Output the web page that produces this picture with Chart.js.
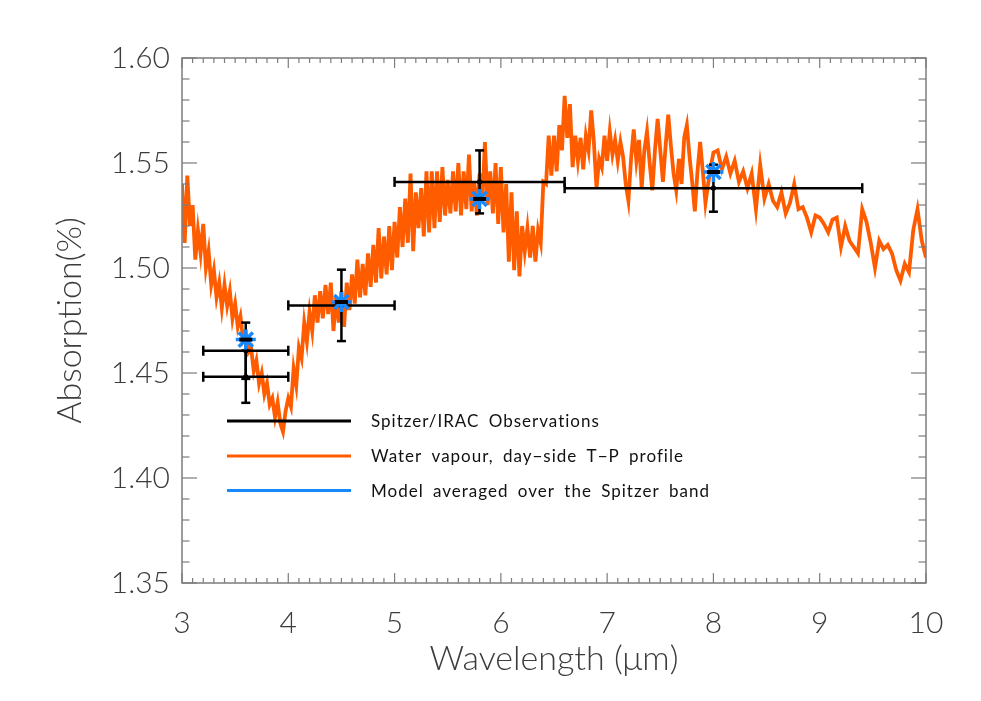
<!DOCTYPE html>
<html><head><meta charset="utf-8">
<script src="https://cdn.jsdelivr.net/npm/chart.js@4/dist/chart.umd.min.js"></script>
<style>html,body{margin:0;padding:0;background:#fff;overflow:hidden}#wrap{width:981px;height:701px;position:relative}</style>
</head><body><div id="wrap"><canvas id="c" width="981" height="701"></canvas></div>
<script>
// ---- Data ----
const wavelength = [
3,3.025,3.05,3.075,3.1,3.125,3.15,3.175,3.2,3.225,
3.25,3.275,3.3,3.325,3.35,3.375,3.4,3.425,3.45,3.475,
3.5,3.525,3.55,3.575,3.6,3.625,3.65,3.675,3.7,3.725,
3.75,3.775,3.8,3.825,3.85,3.875,3.9,3.925,3.95,3.975,
4,4.025,4.05,4.075,4.1,4.125,4.15,4.175,4.2,4.225,
4.25,4.275,4.3,4.325,4.35,4.375,4.4,4.425,4.45,4.475,
4.5,4.525,4.55,4.575,4.6,4.625,4.65,4.675,4.7,4.725,
4.75,4.775,4.8,4.825,4.85,4.875,4.9,4.925,4.95,4.975,
5,5.025,5.05,5.075,5.1,5.125,5.15,5.175,5.2,5.225,
5.25,5.275,5.3,5.325,5.35,5.375,5.4,5.425,5.45,5.475,
5.5,5.525,5.55,5.575,5.6,5.625,5.65,5.675,5.7,5.725,
5.75,5.775,5.8,5.825,5.85,5.875,5.9,5.925,5.95,5.975,
6,6.025,6.05,6.075,6.1,6.125,6.15,6.175,6.2,6.225,
6.25,6.275,6.3,6.325,6.35,6.375,6.4,6.425,6.45,6.475,
6.5,6.525,6.55,6.575,6.6,6.625,6.65,6.675,6.7,6.725,
6.75,6.775,6.8,6.825,6.85,6.875,6.9,6.925,6.95,6.975,
7,7.025,7.05,7.075,7.1,7.125,7.15,7.175,7.2,7.225,
7.25,7.275,7.3,7.325,7.35,7.375,7.4,7.425,7.45,7.475,
7.5,7.525,7.55,7.575,7.6,7.625,7.65,7.675,7.7,7.725,
7.75,7.775,7.8,7.825,7.85,7.875,7.9,7.925,7.95,7.975,
8,
8.04,8.08,8.12,8.16,8.2,8.24,8.28,8.32,8.36,8.4,
8.44,8.48,8.52,8.56,8.6,8.64,8.68,8.72,8.76,8.8,
8.84,8.88,8.92,8.96,9,9.04,9.08,9.12,9.16,9.2,
9.24,9.28,9.32,9.36,9.4,9.44,9.48,9.52,9.56,9.6,
9.64,9.68,9.72,9.76,9.8,9.84,9.88,9.92,9.96,10
];
const absorption = [
1.540,1.512,1.544,1.520,1.530,1.504,1.518,1.507,1.521,1.500,
1.508,1.492,1.499,1.486,1.493,1.481,1.492,1.482,1.489,1.476,
1.483,1.472,1.477,1.466,1.469,1.460,1.462,1.451,1.456,1.445,
1.450,1.440,1.445,1.435,1.438,1.429,1.436,1.426,1.422,1.432,
1.438,1.434,1.452,1.444,1.462,1.457,1.474,1.465,1.479,1.470,
1.487,1.474,1.489,1.476,1.492,1.478,1.493,1.470,1.486,1.474,
1.489,1.472,1.493,1.480,1.497,1.483,1.504,1.486,1.502,1.487,
1.507,1.491,1.511,1.493,1.519,1.495,1.515,1.497,1.520,1.499,
1.522,1.505,1.529,1.510,1.533,1.512,1.545,1.508,1.536,1.519,
1.538,1.515,1.546,1.517,1.546,1.519,1.546,1.522,1.548,1.525,
1.542,1.526,1.546,1.527,1.550,1.525,1.546,1.528,1.554,1.527,
1.541,1.525,1.545,1.531,1.560,1.530,1.546,1.526,1.550,1.521,
1.548,1.517,1.540,1.503,1.536,1.499,1.527,1.496,1.520,1.508,
1.519,1.505,1.520,1.503,1.518,1.512,1.541,1.540,1.563,1.544,
1.563,1.546,1.568,1.556,1.582,1.562,1.578,1.548,1.563,1.551,
1.562,1.547,1.563,1.556,1.575,1.560,1.538,1.552,1.548,1.563,
1.551,1.565,1.554,1.561,1.551,1.560,1.553,1.540,1.532,1.552,
1.566,1.551,1.561,1.538,1.556,1.565,1.550,1.537,1.556,1.571,
1.556,1.541,1.558,1.573,1.558,1.545,1.537,1.552,1.540,1.562,
1.568,1.553,1.541,1.527,1.546,1.560,1.546,1.531,1.540,1.548,
1.555,
1.556,1.547,1.553,1.545,1.551,1.541,1.546,1.538,1.545,1.528,
1.549,1.533,1.540,1.532,1.529,1.536,1.526,1.531,1.540,1.528,
1.529,1.524,1.517,1.525,1.524,1.521,1.517,1.523,1.524,1.510,
1.520,1.513,1.510,1.507,1.528,1.522,1.512,1.500,1.513,1.509,
1.511,1.507,1.499,1.494,1.502,1.498,1.518,1.528,1.513,1.505
];
const obsWavelength    = [3.6, 3.6, 4.5, 5.8, 8.0];
const obsAbsorption    = [1.4606, 1.4482, 1.4822, 1.5410, 1.5380];
const obsWavelengthErr = [0.4, 0.4, 0.5, 0.8, 1.4];
const obsAbsorptionErr = [0.0134, 0.0124, 0.0170, 0.0150, 0.0112];
const modelWavelength  = [3.6, 4.5, 5.8, 8.0];
const modelAbsorption  = [1.4659, 1.4838, 1.5329, 1.5457];
const xTicks = [3, 4, 5, 6, 7, 8, 9, 10];
const yTicks = [1.35, 1.40, 1.45, 1.50, 1.55, 1.60];
const legendLabels = ['Spitzer/IRAC Observations', 'Water vapour, day\u2212side T\u2212P profile', 'Model averaged over the Spitzer band'];

const ORANGE = '#ff5c00', BLUE = '#1789ff', BLACK = '#000000', AXIS = '#7c7c7c';

const spectrum = wavelength.map((w, i) => ({x: w, y: absorption[i]}));
const obs = obsWavelength.map((w, i) => ({x: w, y: obsAbsorption[i]}));
const model = modelWavelength.map((w, i) => ({x: w, y: modelAbsorption[i]}));

function seg(ctx, x1, y1, x2, y2) { ctx.beginPath(); ctx.moveTo(x1, y1); ctx.lineTo(x2, y2); ctx.stroke(); }

const errorBars = {
  id: 'errorBars',
  afterDatasetDraw(chart, args) {
    if (args.index !== 0) return;
    const {ctx, scales: {x, y}} = chart;
    ctx.save();
    ctx.strokeStyle = BLACK; ctx.lineWidth = 2.5; ctx.lineCap = 'butt';
    obs.forEach((p, i) => {
      const px = x.getPixelForValue(p.x), py = y.getPixelForValue(p.y);
      const xl = x.getPixelForValue(p.x - obsWavelengthErr[i]);
      const xr = x.getPixelForValue(p.x + obsWavelengthErr[i]);
      const yt = y.getPixelForValue(p.y + obsAbsorptionErr[i]);
      const yb = y.getPixelForValue(p.y - obsAbsorptionErr[i]);
      seg(ctx, xl, py, xr, py);
      seg(ctx, xl, py - 5, xl, py + 5);
      seg(ctx, xr, py - 5, xr, py + 5);
      seg(ctx, px, yt, px, yb);
      seg(ctx, px - 4.5, yt, px + 4.5, yt);
      seg(ctx, px - 4.5, yb, px + 4.5, yb);
    });
    ctx.restore();
  },
  afterDatasetsDraw(chart) {
    const {ctx, scales: {x, y}} = chart;
    ctx.save();
    ctx.strokeStyle = BLACK; ctx.lineWidth = 4;
    model.forEach(p => {
      const px = x.getPixelForValue(p.x), py = y.getPixelForValue(p.y);
      seg(ctx, px - 6.5, py, px + 6.5, py);
    });
    ctx.restore();
  }
};

const frame = {
  id: 'frame',
  afterDraw(chart) {
    const {ctx, chartArea: a, scales: {x, y}} = chart;
    ctx.save();
    ctx.strokeStyle = AXIS; ctx.lineWidth = 1.5;
    ctx.strokeRect(a.left, a.top, a.right - a.left, a.bottom - a.top);
    ctx.lineWidth = 1.2;
    for (let i = 0; i <= 70; i++) {
      const px = x.getPixelForValue(3 + i * 0.1);
      const len = (i % 10 === 0) ? 10 : 5;
      seg(ctx, px, a.bottom, px, a.bottom - len);
      seg(ctx, px, a.top, px, a.top + len);
    }
    for (let i = 0; i <= 25; i++) {
      const py = y.getPixelForValue(1.35 + i * 0.01);
      const len = (i % 5 === 0) ? 15 : 7.5;
      seg(ctx, a.left, py, a.left + len, py);
      seg(ctx, a.right, py, a.right - len, py);
    }
    ctx.restore();
  }
};

const legendBox = {
  id: 'legendBox',
  afterDraw(chart) {
    const {ctx} = chart;
    const rows = [[BLACK, 421], [ORANGE, 456], [BLUE, 490.5]];
    ctx.save();
    ctx.font = '400 17px Lato, "DejaVu Sans", sans-serif';
    if ('letterSpacing' in ctx) ctx.letterSpacing = '1px';
    if ('wordSpacing' in ctx) ctx.wordSpacing = '4px';
    ctx.fillStyle = '#111';
    ctx.textBaseline = 'middle';
    ctx.lineWidth = 3;
    rows.forEach(([c, yy], i) => {
      ctx.strokeStyle = c;
      seg(ctx, 227, yy, 351, yy);
      ctx.fillText(legendLabels[i], 371, yy + 1);
    });
    ctx.restore();
  }
};

const tickFont = {family: 'Lato, "DejaVu Sans", sans-serif', size: 30, weight: 300};
const titleFont = {family: 'Lato, "DejaVu Sans", sans-serif', size: 34, weight: 300};

new Chart(document.getElementById('c'), {
  type: 'scatter',
  data: {
    datasets: [
      {label: legendLabels[1], data: spectrum, showLine: true, borderColor: ORANGE, borderWidth: 3.8, pointRadius: 0, tension: 0, order: 3},
      {label: legendLabels[0], data: obs, showLine: false, pointStyle: 'rect', pointRadius: 2.5, backgroundColor: BLACK, borderColor: BLACK, borderWidth: 1, order: 2},
      {label: legendLabels[2], data: model, showLine: false, pointStyle: 'star', pointRadius: 10, borderColor: BLUE, borderWidth: 3.5, backgroundColor: BLUE, order: 1}
    ]
  },
  options: {
    responsive: false, animation: false, devicePixelRatio: 1,
    layout: {padding: {top: 58, right: 55, left: 0, bottom: 0}},
    plugins: {legend: {display: false}, tooltip: {enabled: false}},
    scales: {
      x: {
        type: 'linear', min: 3, max: 10,
        afterBuildTicks: s => { s.ticks = xTicks.map(v => ({value: v})); },
        afterFit: s => { s.height = 118; },
        grid: {display: false, drawTicks: false}, border: {display: false},
        ticks: {font: tickFont, color: '#3c3c3c', padding: 22, callback: v => String(v), maxRotation: 0},
        title: {display: true, text: 'Wavelength (\u03bcm)', font: titleFont, color: '#3c3c3c', padding: {top: 22, bottom: 22}}
      },
      y: {
        type: 'linear', min: 1.35, max: 1.60,
        afterBuildTicks: s => { s.ticks = yTicks.map(v => ({value: v})); },
        afterFit: s => { s.width = 182; },
        grid: {display: false, drawTicks: false}, border: {display: false},
        ticks: {font: tickFont, color: '#3c3c3c', padding: 12, callback: v => Number(v).toFixed(2)},
        title: {display: true, text: 'Absorption(%)', font: titleFont, color: '#3c3c3c', padding: {top: 50, bottom: 0}}
      }
    }
  },
  plugins: [errorBars, frame, legendBox]
});
</script></body></html>
